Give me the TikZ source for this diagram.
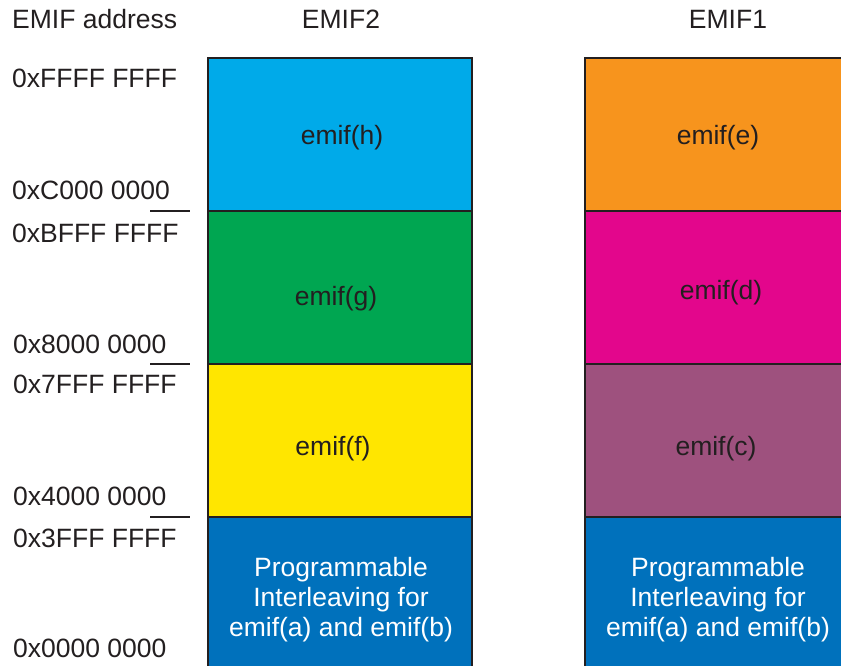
\documentclass[tikz,border=0pt]{standalone}
\usepackage{fontspec}
\setmainfont{Liberation Sans}
\definecolor{edge}{HTML}{231F20}
\definecolor{txt}{HTML}{231F20}
\definecolor{cH}{HTML}{00AAE9}
\definecolor{cG}{HTML}{00A651}
\definecolor{cF}{HTML}{FFE600}
\definecolor{cAB}{HTML}{0071BC}
\definecolor{cE}{HTML}{F7941D}
\definecolor{cD}{HTML}{E3068C}
\definecolor{cC}{HTML}{9E517E}
\begin{document}
\begin{tikzpicture}[x=1pt,y=-1pt,
  lbl/.style={anchor=base west,inner sep=0pt,text=txt,font=\fontsize{26.5}{30}\selectfont},
  head/.style={anchor=base,inner sep=0pt,text=txt,font=\fontsize{26.5}{30}\selectfont},
  membox/.style={draw=edge,line width=2.2pt,minimum width=264pt,inner sep=0pt},
  boxtext/.style={inner sep=0pt,text=txt,font=\fontsize{26.5}{30}\selectfont,align=center},
  tick/.style={draw=edge,line width=2pt}]
\useasboundingbox (0,0) rectangle (841,666);
\clip (0,0) rectangle (841,666);
\fill[white] (0,0) rectangle (841,666);
% headings
\node[lbl] (hAddr) at (12,29) {EMIF address};
\node[head] (hE2) at (341,29) {EMIF2};
\node[head] (hE1) at (728,29) {EMIF1};
% EMIF2 column
\node[membox,fill=cH,minimum height=153pt] (h) at (340,134.5) {};
\node[membox,fill=cG,minimum height=153pt] (g) at (340,287.5) {};
\node[membox,fill=cF,minimum height=153pt] (f) at (340,440.5) {};
\node[membox,fill=cAB,minimum height=160pt] (ab2) at (340,597) {};
% EMIF1 column
\node[membox,fill=cE,minimum height=153pt] (e) at (717,134.5) {};
\node[membox,fill=cD,minimum height=153pt] (d) at (717,287.5) {};
\node[membox,fill=cC,minimum height=153pt] (c) at (717,440.5) {};
\node[membox,fill=cAB,minimum height=160pt] (ab1) at (717,597) {};
% box texts
\node[boxtext] (th) at (342,138) {emif(h)};
\node[boxtext] (tg) at (336,298.5) {emif(g)};
\node[boxtext] (tf) at (333,448.5) {emif(f)};
\node[boxtext,text=white] (tab2) at (341,600) {Programmable\\Interleaving for\\emif(a) and emif(b)};
\node[boxtext] (te) at (718,138) {emif(e)};
\node[boxtext] (td) at (721,292.5) {emif(d)};
\node[boxtext] (tc) at (716,448.5) {emif(c)};
\node[boxtext,text=white] (tab1) at (718,600) {Programmable\\Interleaving for\\emif(a) and emif(b)};
% address labels
\node[lbl] (a1) at (12,88) {0xFFFF FFFF};
\node[lbl] (a2) at (12,200) {0xC000 0000};
\node[lbl] (a3) at (12,242) {0xBFFF FFFF};
\node[lbl] (a4) at (13,353) {0x8000 0000};
\node[lbl] (a5) at (13,393) {0x7FFF FFFF};
\node[lbl] (a6) at (13,505) {0x4000 0000};
\node[lbl] (a7) at (13,547) {0x3FFF FFFF};
\node[lbl] (a8) at (13,657) {0x0000 0000};
% boundary ticks
\coordinate (t1a) at (150,210.5); \coordinate (t1b) at (190,210.5);
\coordinate (t2a) at (150,363.5); \coordinate (t2b) at (190,363.5);
\coordinate (t3a) at (150,516.5); \coordinate (t3b) at (190,516.5);
\draw[tick] (t1a) -- (t1b);
\draw[tick] (t2a) -- (t2b);
\draw[tick] (t3a) -- (t3b);
\end{tikzpicture}
\end{document}
